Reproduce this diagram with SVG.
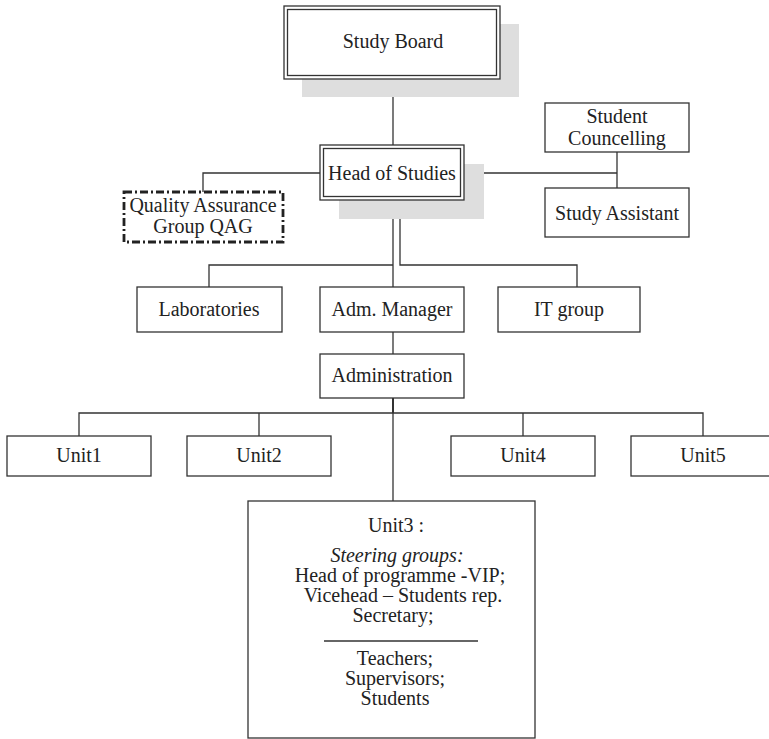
<svg xmlns="http://www.w3.org/2000/svg" width="769" height="739" viewBox="0 0 769 739">
<style>
text{font-family:"Liberation Serif","Times New Roman",serif;font-size:20px;fill:#222;text-anchor:middle}
.box{fill:#fff;stroke:#333;stroke-width:1.3}
.shadow{fill:#dedede;stroke:none}
.ln{fill:none;stroke:#333;stroke-width:1.3}
.thick{stroke-width:2}
.qag{fill:#fff;stroke:#222;stroke-width:2.8;stroke-dasharray:8 3 2 3}
</style>
<rect width="769" height="739" fill="#fff"/>
<g id="connectors">
<path class="ln" d="M393 79V145"/>
<path class="ln" d="M320 173H203V192"/>
<path class="ln" d="M464 173H617"/>
<path class="ln" d="M617 152V188"/>
<path class="ln" d="M393 200V287"/>
<path class="ln" d="M393 265H209V287"/>
<path class="ln" d="M400 200V265H577V287"/>
<path class="ln" d="M393 332V354"/>
<path class="ln thick" d="M393 398V413"/>
<path class="ln" d="M393 413V501"/>
<path class="ln" d="M79 436V413H703V436"/>
<path class="ln" d="M259 413V436"/>
<path class="ln" d="M523 413V436"/>
</g>
<g id="study-board">
<rect class="shadow" x="302" y="24" width="217" height="73"/>
<rect class="box" x="284" y="6" width="216" height="73"/>
<rect class="box" x="287.5" y="9.5" width="209" height="66"/>
<text x="393" y="48">Study Board</text>
</g>
<g id="head-of-studies">
<rect class="shadow" x="339" y="164" width="145" height="55"/>
<rect class="box" x="320" y="145" width="144" height="55"/>
<rect class="box" x="323.5" y="148.5" width="137" height="48"/>
<text x="392" y="180">Head of Studies</text>
</g>
<g id="qag">
<rect class="qag" x="124" y="192" width="159" height="50"/>
<text x="203" y="212">Quality Assurance</text>
<text x="203" y="233">Group QAG</text>
</g>
<g id="student-councelling">
<rect class="box" x="545" y="103" width="144" height="49"/>
<text x="617" y="123">Student</text>
<text x="617" y="145">Councelling</text>
</g>
<g id="study-assistant">
<rect class="box" x="545" y="188" width="144" height="49"/>
<text x="617" y="220">Study Assistant</text>
</g>
<g id="laboratories">
<rect class="box" x="137" y="287" width="145" height="45"/>
<text x="209" y="316">Laboratories</text>
</g>
<g id="adm-manager">
<rect class="box" x="320" y="287" width="144" height="45"/>
<text x="392" y="316">Adm. Manager</text>
</g>
<g id="it-group">
<rect class="box" x="498" y="287" width="142" height="45"/>
<text x="569" y="316">IT group</text>
</g>
<g id="administration">
<rect class="box" x="320" y="354" width="144" height="44"/>
<text x="392" y="382">Administration</text>
</g>
<g id="unit1">
<rect class="box" x="7" y="436" width="144" height="40"/>
<text x="79" y="462">Unit1</text>
</g>
<g id="unit2">
<rect class="box" x="187" y="436" width="144" height="40"/>
<text x="259" y="462">Unit2</text>
</g>
<g id="unit4">
<rect class="box" x="451" y="436" width="144" height="40"/>
<text x="523" y="462">Unit4</text>
</g>
<g id="unit5">
<rect class="box" x="631" y="436" width="144" height="40"/>
<text x="703" y="462">Unit5</text>
</g>
<g id="unit3">
<rect class="box" x="248" y="501" width="287" height="237"/>
<text x="396" y="532">Unit3 :</text>
<text x="397" y="562" font-style="italic">Steering groups:</text>
<text x="400" y="582">Head of programme -VIP;</text>
<text x="403" y="602">Vicehead – Students rep.</text>
<text x="393" y="622">Secretary;</text>
<path class="ln" d="M324 641H478"/>
<text x="395" y="665">Teachers;</text>
<text x="395" y="685">Supervisors;</text>
<text x="395" y="705">Students</text>
</g>
</svg>
